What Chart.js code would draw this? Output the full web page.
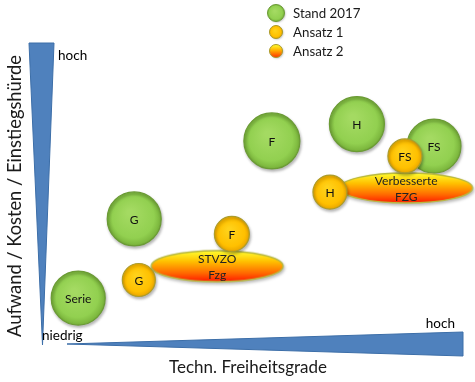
<!DOCTYPE html>
<html><head><meta charset="utf-8">
<script src="https://cdn.jsdelivr.net/npm/chart.js@4.4.1/dist/chart.umd.min.js"></script>
<style>html,body{margin:0;padding:0;background:#fff}#wrap{width:475px;height:382px;position:relative}</style>
</head><body><div id="wrap"><canvas id="c"></canvas></div>
<script>
const seriesNames = ['Stand 2017', 'Ansatz 1', 'Ansatz 2'];
const standLabels = ['Serie', 'G', 'F', 'H', 'FS'];
const standX = [0.86, 2.19, 5.46, 7.48, 9.31];
const standY = [1.56, 4.19, 6.78, 7.34, 6.61];
const standR = [27, 27, 28, 27.5, 27];
const ansatz1Labels = ['G', 'F', 'H', 'FS'];
const ansatz1X = [2.30, 4.51, 6.84, 8.62];
const ansatz1Y = [2.16, 3.69, 5.08, 6.28];
const ansatz1R = [16.5, 17.5, 17, 17];
const ansatz2Labels = [['STVZO', 'Fzg'], ['Verbesserte', 'FZG']];
const ansatz2X = [4.16, 8.65];
const ansatz2Y = [2.62, 5.22];
const ansatz2W = [3.13, 3.15];
const ansatz2H = [1.03, 1.0];
const xAxisTitle = 'Techn. Freiheitsgrade';
const yAxisTitle = 'Aufwand / Kosten / Einstiegshürde';
const levelLabels = ['niedrig', 'hoch'];

const FONT = 'Lato, "Open Sans", sans-serif';

function toPoints(xs, ys, rs) { return xs.map((x, i) => ({x: x, y: ys[i], r: rs ? rs[i] : 15})); }

function radial(ctx, stops, cx, cy, r) {
  const g = ctx.createRadialGradient(cx - r * 0.15, cy - r * 0.25, r * 0.1, cx, cy, r);
  stops.forEach(s => g.addColorStop(s[0], s[1]));
  return g;
}
function pix(chart, i, ds) {
  const d = chart.data.datasets[ds].data[i];
  return {x: chart.scales.x.getPixelForValue(d.x), y: chart.scales.y.getPixelForValue(d.y), r: d.r};
}
function ok(p) { return isFinite(p.x) && isFinite(p.y) && isFinite(p.r); }
const greenStops = [[0, '#a4da62'], [0.75, '#92d050'], [1, '#78b23a']];
const yellowStops = [[0, '#ffd21a'], [0.75, '#ffc000'], [1, '#eaa600']];

const ellCache = {};
function ellipseCanvas(w, h) {
  const key = Math.round(w) + 'x' + Math.round(h);
  if (ellCache[key]) return ellCache[key];
  const c = document.createElement('canvas');
  c.width = Math.round(w) + 4; c.height = Math.round(h) + 4;
  const g = c.getContext('2d');
  const grad = g.createLinearGradient(0, 2, 0, h + 2);
  grad.addColorStop(0, '#ffff30');
  grad.addColorStop(0.35, '#ffc000');
  grad.addColorStop(0.72, '#ff6a00');
  grad.addColorStop(1, '#ff1800');
  g.beginPath();
  g.ellipse(c.width / 2, c.height / 2, w / 2, h / 2, 0, 0, Math.PI * 2);
  g.fillStyle = grad; g.fill();
  g.lineWidth = 1.5; g.strokeStyle = '#b8b840'; g.stroke();
  ellCache[key] = c;
  return c;
}

const decor = {
  id: 'decor',
  beforeDatasetsDraw(chart) {
    const ctx = chart.ctx, a = chart.chartArea;
    ctx.save();
    ctx.fillStyle = '#4f81bd'; ctx.strokeStyle = '#3c6ea8'; ctx.lineWidth = 1;
    ctx.beginPath();
    ctx.moveTo(a.left - 13, a.top - 1);
    ctx.lineTo(a.left + 12, a.top - 1);
    ctx.lineTo(a.left + 0.5, a.bottom);
    ctx.closePath(); ctx.fill(); ctx.stroke();
    ctx.beginPath();
    ctx.moveTo(a.left + 25, a.bottom - 1);
    ctx.lineTo(a.right, a.bottom - 13);
    ctx.lineTo(a.right, a.bottom + 11);
    ctx.closePath(); ctx.fill(); ctx.stroke();
    ctx.restore();
    ctx.save();
    ctx.fillStyle = '#000';
    ctx.font = '13.5px ' + FONT;
    ctx.textBaseline = 'middle';
    ctx.textAlign = 'left';
    ctx.fillText(levelLabels[1], a.left + 16, a.top + 12);
    ctx.fillText(levelLabels[0], a.left + 0, a.bottom - 9);
    ctx.textAlign = 'right';
    ctx.fillText(levelLabels[1], a.right - 8, a.bottom - 21);
    ctx.font = '17px ' + FONT;
    ctx.fillStyle = '#1a1a1a';
    ctx.textAlign = 'center';
    ctx.fillText(xAxisTitle, 248, a.bottom + 23);
    ctx.font = '18.3px ' + FONT;
    ctx.translate(15, 196);
    ctx.rotate(-Math.PI / 2);
    ctx.fillText(yAxisTitle, 0, 0);
    ctx.restore();
    ctx.save();
    ctx.shadowColor = 'rgba(0,0,0,0.28)';
    ctx.shadowBlur = 3; ctx.shadowOffsetX = 1; ctx.shadowOffsetY = 2;
  },
  afterDatasetsDraw(chart) {
    const ctx = chart.ctx;
    ctx.restore();
    ctx.save();
    ctx.fillStyle = '#111';
    ctx.textAlign = 'center'; ctx.textBaseline = 'middle';
    ctx.font = '12px ' + FONT;
    chart.getDatasetMeta(0).data.forEach((p, i) => ctx.fillText(standLabels[i], p.x, p.y + 1));
    chart.getDatasetMeta(2).data.forEach((p, i) => ctx.fillText(ansatz1Labels[i], p.x, p.y + 1));
    ctx.fillStyle = '#222';
    chart.getDatasetMeta(1).data.forEach((p, i) => {
      ctx.fillText(ansatz2Labels[i][0], p.x, p.y - 7);
      ctx.fillText(ansatz2Labels[i][1], p.x, p.y + 9);
    });
    const lx = 276, ly = [13, 32, 51], rr = [8.5, 6.5, 6.5];
    ctx.font = '13.3px ' + FONT; ctx.textAlign = 'left'; ctx.fillStyle = '#1a1a1a';
    ly.forEach((y, i) => {
      ctx.save();
      ctx.shadowColor = 'rgba(0,0,0,0.25)'; ctx.shadowBlur = 2; ctx.shadowOffsetX = 1; ctx.shadowOffsetY = 1;
      ctx.beginPath(); ctx.arc(lx, y, rr[i], 0, Math.PI * 2);
      let fill, stroke;
      if (i === 0) { fill = radial(ctx, greenStops, lx, y, rr[i]); stroke = '#6b9b35'; }
      else if (i === 1) { fill = radial(ctx, yellowStops, lx, y, rr[i]); stroke = '#a89a28'; }
      else { const g = ctx.createLinearGradient(0, y - rr[i], 0, y + rr[i]); g.addColorStop(0, '#ffff30'); g.addColorStop(0.45, '#ffb000'); g.addColorStop(1, '#ff3000'); fill = g; stroke = '#a89a28'; }
      ctx.fillStyle = fill; ctx.fill();
      ctx.shadowColor = 'transparent';
      ctx.lineWidth = 1; ctx.strokeStyle = stroke; ctx.stroke();
      ctx.restore();
      ctx.fillText(seriesNames[i], 293, y + 1);
    });
    ctx.restore();
  }
};

new Chart(document.getElementById('c'), {
  type: 'bubble',
  data: {
    datasets: [
      {
        label: seriesNames[0], data: toPoints(standX, standY, standR), order: 3, clip: false,
        backgroundColor: (c) => { if (c.dataIndex === undefined || !c.chart.scales.x) return '#92d050'; const p = pix(c.chart, c.dataIndex, 0); return ok(p) ? radial(c.chart.ctx, greenStops, p.x, p.y, p.r) : '#92d050'; },
        borderColor: '#6b9b35', borderWidth: 1.2
      },
      {
        label: seriesNames[2], data: toPoints(ansatz2X, ansatz2Y), order: 2, clip: false,
        pointStyle: (c) => {
          if (c.dataIndex === undefined || !c.chart.scales.x) return 'circle';
          const sx = c.chart.scales.x, sy = c.chart.scales.y, i = c.dataIndex;
          const w = Math.abs(sx.getPixelForValue(ansatz2W[i]) - sx.getPixelForValue(0));
          const h = Math.abs(sy.getPixelForValue(ansatz2H[i]) - sy.getPixelForValue(0));
          if (!isFinite(w) || !isFinite(h) || w < 2 || h < 2) return 'circle';
          return ellipseCanvas(w, h);
        },
        backgroundColor: '#ffa000', borderColor: '#b8b840'
      },
      {
        label: seriesNames[1], data: toPoints(ansatz1X, ansatz1Y, ansatz1R), order: 1, clip: false,
        backgroundColor: (c) => { if (c.dataIndex === undefined || !c.chart.scales.x) return '#ffc000'; const p = pix(c.chart, c.dataIndex, 2); return ok(p) ? radial(c.chart.ctx, yellowStops, p.x, p.y, p.r) : '#ffc000'; },
        borderColor: '#ad9d2a', borderWidth: 1.2
      }
    ]
  },
  options: {
    responsive: true, maintainAspectRatio: false, animation: false,
    layout: {autoPadding: false, padding: {left: 42, right: 12, top: 44, bottom: 37}},
    scales: {
      x: {type: 'linear', min: 0, max: 10, display: false},
      y: {type: 'linear', min: 0, max: 10, display: false}
    },
    plugins: {legend: {display: false}, tooltip: {enabled: false}},
    events: []
  },
  plugins: [decor]
});
</script>
</body></html>
